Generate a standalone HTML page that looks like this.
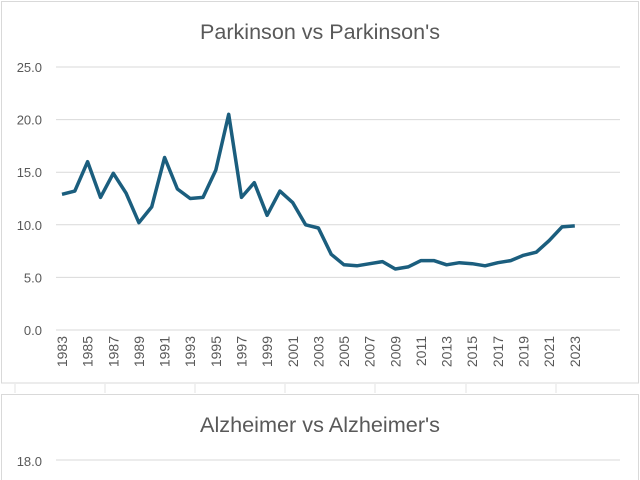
<!DOCTYPE html>
<html><head><meta charset="utf-8"><style>
html,body{margin:0;padding:0;background:#fff;width:640px;height:480px;overflow:hidden}
svg{display:block}
text{font-family:"Liberation Sans",sans-serif;fill:#595959}
</style></head><body>
<svg width="640" height="480" viewBox="0 0 640 480" xmlns="http://www.w3.org/2000/svg">
<rect x="1.5" y="1.5" width="637" height="381.5" fill="#fff" stroke="#d9d9d9"/>
<text x="320" y="39" font-size="21" text-anchor="middle" textLength="240" lengthAdjust="spacingAndGlyphs">Parkinson vs Parkinson's</text>
<g stroke="#d9d9d9" stroke-width="1">
<line x1="56" x2="620" y1="67" y2="67"/>
<line x1="56" x2="620" y1="119.6" y2="119.6"/>
<line x1="56" x2="620" y1="172.2" y2="172.2"/>
<line x1="56" x2="620" y1="224.8" y2="224.8"/>
<line x1="56" x2="620" y1="277.4" y2="277.4"/>
<line x1="56" x2="620" y1="330" y2="330"/>
</g>
<g font-size="13" text-anchor="end">
<text x="42" y="72">25.0</text>
<text x="42" y="124.6">20.0</text>
<text x="42" y="177.2">15.0</text>
<text x="42" y="229.8">10.0</text>
<text x="42" y="282.4">5.0</text>
<text x="42" y="335">0.0</text>
</g>
<g font-size="14" text-anchor="end" id="yl"></g>
<polyline id="ln" fill="none" stroke="#1b5e7e" stroke-width="3.5" stroke-linejoin="round" points=""/>
<g stroke="#e3e3e3"><line x1="15" x2="15" y1="384" y2="393"/><line x1="105" x2="105" y1="384" y2="393"/><line x1="195" x2="195" y1="384" y2="393"/><line x1="285" x2="285" y1="384" y2="393"/><line x1="375" x2="375" y1="384" y2="393"/><line x1="466" x2="466" y1="384" y2="393"/><line x1="556" x2="556" y1="384" y2="393"/></g>
<rect x="1.5" y="394.5" width="637" height="100" fill="#fff" stroke="#d9d9d9"/>
<text x="320" y="432" font-size="21" text-anchor="middle" textLength="240" lengthAdjust="spacingAndGlyphs">Alzheimer vs Alzheimer's</text>
<text x="42" y="466" font-size="13" text-anchor="end">18.0</text>
<line x1="56" x2="620" y1="460" y2="460" stroke="#d9d9d9"/>
</svg>
<script>
var d=[12.9,13.2,16.0,12.6,14.9,13.0,10.2,11.7,16.4,13.4,12.5,12.6,15.2,20.5,12.6,14.0,10.9,13.2,12.1,10.0,9.7,7.2,6.2,6.1,6.3,6.5,5.8,6.0,6.6,6.6,6.2,6.4,6.3,6.1,6.4,6.6,7.1,7.4,8.5,9.8,9.9];
var p=[];for(var i=0;i<d.length;i++){p.push((62+12.82*i).toFixed(1)+","+(330-10.52*d[i]).toFixed(1));}
document.getElementById("ln").setAttribute("points",p.join(" "));
var g=document.getElementById("yl"),ns="http://www.w3.org/2000/svg";
for(var y=1983;y<=2023;y+=2){var x=62+12.82*(y-1983);var t=document.createElementNS(ns,"text");
t.setAttribute("transform","translate("+(x+5)+",336) rotate(-90)");t.textContent=y;g.appendChild(t);}
</script>
</body></html>
